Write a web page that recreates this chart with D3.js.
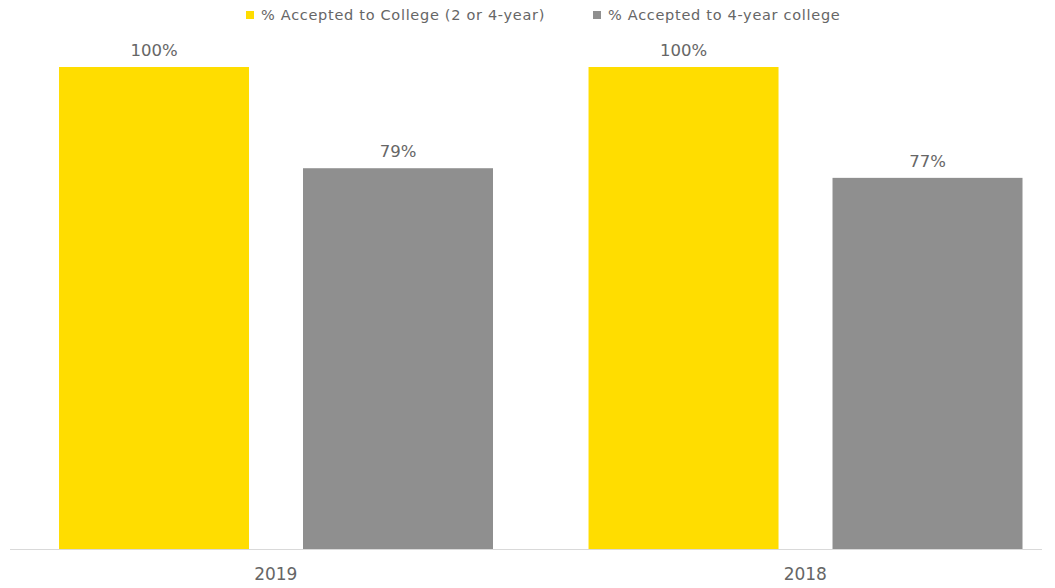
<!DOCTYPE html>
<html>
<head>
<meta charset="utf-8">
<script src="https://cdn.jsdelivr.net/npm/d3@7"></script>
<style>
  html, body { margin: 0; padding: 0; background: #ffffff; }
  svg text { font-family: "DejaVu Sans", sans-serif; fill: #666666; }
</style>
</head>
<body>
<svg id="chart" width="1055" height="588"></svg>
<script>
// Chart data
const years = ["2019", "2018"];
const seriesNames = ["% Accepted to College (2 or 4-year)", "% Accepted to 4-year college"];
const acceptedAny = [1.00, 1.00];
const accepted4yr = [0.79, 0.77];
const seriesColors = ["#FFDD00", "#8F8F8F"];

const svg = d3.select("#chart");

const x0 = d3.scaleBand().domain(years).range([11, 1070]).paddingInner(0).paddingOuter(0);
const gw = x0.bandwidth();
const x1 = d3.scaleBand().domain(d3.range(seriesNames.length))
  .range([gw * 0.0907, gw * 0.9103]).paddingInner(0.2213).paddingOuter(0);
const y = d3.scaleLinear().domain([0, 1]).range([549, 67]);

const rows = years.map((yr, i) => ({ year: yr, values: [acceptedAny[i], accepted4yr[i]] }));

const fmt = d3.format(".0%");

const groups = svg.selectAll("g.year").data(rows).join("g")
  .attr("class", "year")
  .attr("transform", d => `translate(${x0(d.year)},0)`);

groups.selectAll("rect").data(d => d.values.map((v, s) => ({ v, s }))).join("rect")
  .attr("x", d => x1(d.s))
  .attr("width", x1.bandwidth())
  .attr("y", d => y(d.v))
  .attr("height", d => y(0) - y(d.v))
  .attr("fill", d => seriesColors[d.s]);

groups.selectAll("text.val").data(d => d.values.map((v, s) => ({ v, s }))).join("text")
  .attr("class", "val")
  .attr("x", d => x1(d.s) + x1.bandwidth() / 2)
  .attr("y", d => y(d.v) - 11)
  .attr("text-anchor", "middle")
  .style("font-size", "16.5px")
  .text(d => fmt(d.v));

// Category axis
const axis = d3.axisBottom(x0).tickSize(0).tickPadding(19);
const gAxis = svg.append("g").attr("transform", `translate(0,${y(0)})`).call(axis);
gAxis.select(".domain").remove();
gAxis.selectAll("text")
  .style("font-size", "17px")
  .style("font-family", "'DejaVu Sans', sans-serif")
  .attr("fill", "#666666");
svg.append("line")
  .attr("x1", 10).attr("x2", 1042)
  .attr("y1", y(0) + 0.5).attr("y2", y(0) + 0.5)
  .attr("stroke", "#d9d9d9").attr("stroke-width", 1);

// Legend
const legendX = [246, 593];
const legend = svg.append("g").selectAll("g").data(seriesNames).join("g")
  .attr("transform", (d, i) => `translate(${legendX[i]},15)`);
legend.append("rect").attr("x", 0).attr("y", -4).attr("width", 8).attr("height", 8)
  .attr("fill", (d, i) => seriesColors[i]);
legend.append("text").attr("x", 15).attr("y", 0).attr("dy", "0.35em")
  .style("font-size", "14.5px").style("letter-spacing", "0.7px").text(d => d);
</script>
</body>
</html>
